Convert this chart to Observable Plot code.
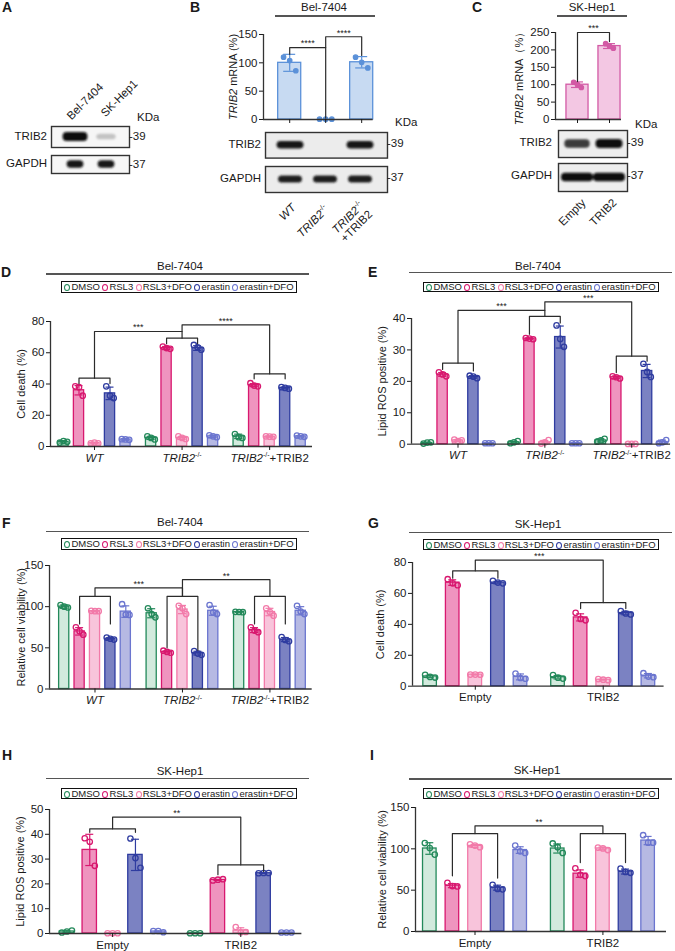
<!DOCTYPE html>
<html><head><meta charset="utf-8">
<script src="https://cdn.jsdelivr.net/npm/d3@7"></script>
<script src="https://cdn.jsdelivr.net/npm/@observablehq/plot@0.6"></script>
<style>
body{margin:0;background:#fff;}
#fig{position:relative;width:675px;height:951px;font-family:"Liberation Sans",Arial,Helvetica,sans-serif;color:#1a1a1a;overflow:hidden;background:#fff;}
.abs{position:absolute;white-space:nowrap;}
.legend{box-sizing:border-box;border:1.5px solid #111;display:flex;align-items:center;justify-content:space-evenly;font-size:9.5px;line-height:1;}
.ring{display:inline-block;width:4px;height:5px;border:1.7px solid;border-radius:50%;margin-right:1px;vertical-align:-1px;}
sup{font-size:7px;vertical-align:5px;line-height:0;}
</style>
</head><body><div id="fig"></div>
<script>
// ---------------- DATA ----------------
const treatments = ["DMSO", "RSL3", "RSL3+DFO", "erastin", "erastin+DFO"];
const trtStroke = ["#23895a", "#d8186f", "#f27aa9", "#2f3ca0", "#6b75cf"];
const trtFill = ["#d2eadd", "#ef94bf", "#f8c4db", "#7b82c2", "#b6b9e3"];
const belGroups = ["WT", "TRIB2-/-", "TRIB2-/-+TRIB2"];
const skGroups = ["Empty", "TRIB2"];

// A: western blot
const blotALanes = ["Bel-7404", "SK-Hep1"];
const blotATRIB2 = [1.0, 0.22];
const blotAGAPDH = [0.95, 0.95];
// B
const bMean = [100, 0, 101];
const bSD = [15, 0, 10];
const bReps = [[110, 104, 86], [0.6, 0.6, 0.6], [110, 101, 91]];
const blotBTRIB2 = [0.95, 0.0, 0.95];
const blotBGAPDH = [0.92, 0.92, 0.92];
// C
const cMean = [100, 211];
const cSD = [8, 7];
const cReps = [[107, 100, 92], [218, 211, 205]];
const blotCTRIB2 = [0.8, 1.0];
const blotCGAPDH = [1.0, 1.0];
const kdaLabels = ["39", "37"];

// D: Bel-7404 cell death (%)
const dMean = [[3, 36, 2.2, 34, 4.5], [5.5, 63, 5.5, 63, 6.5], [6.5, 39.3, 6.3, 37.5, 6.5]];
const dSD = [[0.8, 3, 0.5, 4, 0.5], [1, 1, 1, 1.5, 0.8], [1.4, 1, 0.4, 0.6, 0.5]];
const dReps = [
  [[2.5, 3.5, 3], [38.5, 38, 32.5], [2, 2.5, 2], [38.5, 32.5, 31], [4.7, 4.5, 4.3]],
  [[6.5, 5.5, 4.5], [64, 63, 62.5], [6.5, 5.5, 4.8], [65, 63.5, 62], [7.2, 6.5, 6]],
  [[8, 6, 5.5], [40.5, 39, 38.5], [6.5, 6.3, 6.2], [38, 37.5, 37], [7, 6.5, 6.2]]
];
const dBrackets = [
  {l: [0, 1], r: [0, 3], y: 43.7, yl: 40.3, yr: 40.3},
  {l: [1, 1], r: [1, 3], y: 69.3, yl: 65.8, yr: 65.8},
  {l: [2, 1], r: [2, 3], y: 46.5, yl: 43.3, yr: 43.3},
  {l: [0, 2], r: [1, 2], y: 73.6, yl: 43.7, yr: 69.3, label: "***"},
  {l: [1, 2], r: [2, 2], y: 77.9, yl: 73.6, yr: 46.5, label: "****"}
];
// E: Bel-7404 lipid ROS positive (%)
const eMean = [[0.4, 22.2, 1.2, 21.4, 0.3], [0.6, 33.6, 0.6, 34.1, 0.3], [1.2, 21.3, 0.1, 23.3, 0.7]];
const eSD = [[0.2, 0.6, 0.3, 0.4, 0.1], [0.3, 0.2, 0.6, 3.5, 0.1], [0.5, 0.4, 0.1, 2.1, 0.6]];
const eReps = [
  [[0.2, 0.5, 0.6], [22.9, 22.2, 21.6], [1.5, 1.0, 1.2], [21.8, 21.5, 21.0], [0.3, 0.3, 0.3]],
  [[0.3, 0.6, 1.0], [33.8, 33.6, 33.4], [0.2, 0.6, 1.3], [37.8, 33.5, 31.0], [0.3, 0.3, 0.3]],
  [[0.8, 1.2, 1.7], [21.6, 21.3, 20.9], [0.1, 0.1, 0.1], [25.6, 23.0, 21.4], [0.3, 0.6, 1.3]]
];
const eBrackets = [
  {l: [0, 1], r: [0, 3], y: 25.8, yl: 23.8, yr: 23.3},
  {l: [1, 1], r: [1, 3], y: 40.7, yl: 35, yr: 38.6},
  {l: [2, 1], r: [2, 3], y: 28, yl: 22.8, yr: 26.4},
  {l: [0, 2], r: [1, 2], y: 42.6, yl: 25.8, yr: 40.7, label: "***"},
  {l: [1, 2], r: [2, 2], y: 45.3, yl: 42.6, yr: 28, label: "***"}
];
// F: Bel-7404 relative cell viability (%)
const fMean = [[100, 70, 94.5, 61, 94], [92, 45, 96.5, 43.5, 95], [93.5, 71.5, 93.5, 60, 95]];
const fSD = [[2, 4.5, 0.6, 1.3, 7], [5.5, 1.3, 5, 2.3, 5.5], [0.3, 3, 4.5, 2.5, 5]];
const fReps = [
  [[102, 100, 99], [75, 70, 66], [95, 94.5, 94.5], [62.5, 61, 60], [103, 90.5, 90]],
  [[98, 91, 87], [46.5, 45, 44], [101, 98, 91], [46, 43, 41.5], [102, 93, 91]],
  [[93.7, 93.5, 93.3], [75, 71, 69], [98, 93.5, 89], [63, 59.5, 58], [101, 94, 91]]
];
const fBrackets = [
  {l: [0, 1], r: [0, 3], y: 112.5, yl: 79, yr: 79},
  {l: [1, 1], r: [1, 3], y: 112.5, yl: 50, yr: 47},
  {l: [2, 1], r: [2, 3], y: 112.5, yl: 79, yr: 79},
  {l: [0, 2], r: [1, 2], y: 122.7, yl: 112.5, yr: 112.5, label: "***"},
  {l: [1, 2], r: [2, 2], y: 132.8, yl: 112.5, yr: 112.5, label: "**"}
];
// G: SK-Hep1 cell death (%)
const gMean = [[6.3, 67, 7.5, 67, 6], [5.8, 44.5, 4.2, 47.3, 6.8]];
const gSD = [[0.8, 1.8, 0.3, 0.8, 1.9], [1.1, 2.3, 0.3, 1.1, 1.4]];
const gReps = [
  [[7.4, 6, 5.6], [69.2, 66.5, 65.3], [7.5, 7.5, 7.4], [68.2, 67, 66.5], [8.2, 5.3, 4.8]],
  [[7.2, 5.5, 4.9], [47.5, 43.5, 42.6], [4.6, 4.2, 3.9], [48.6, 47, 46.4], [8.4, 6.2, 5.8]]
];
const gBrackets = [
  {l: [0, 1], r: [0, 3], y: 74.6, yl: 69.8, yr: 69.8},
  {l: [1, 1], r: [1, 3], y: 54.1, yl: 50.2, yr: 50.2},
  {l: [0, 2], r: [1, 2], y: 81.5, yl: 74.6, yr: 54.1, label: "***"}
];
// H: SK-Hep1 lipid ROS positive (%)
const hMean = [[0.8, 33.7, 0.1, 31.7, 0.8], [0.1, 21.6, 1.2, 24.3, 0.4]];
const hSD = [[0.3, 6.3, 0.1, 6.3, 0.2], [0.1, 0.2, 1.1, 0.1, 0.05]];
const hReps = [
  [[0.4, 0.8, 1.2], [38.4, 37, 27.3], [0.1, 0.1, 0.1], [38.3, 30.4, 26.5], [1.0, 1.0, 0.5]],
  [[0.1, 0.1, 0.1], [21.4, 21.7, 21.9], [2.6, 0.5, 0.6], [24.3, 24.4, 24.4], [0.4, 0.4, 0.4]]
];
const hBrackets = [
  {l: [0, 1], r: [0, 3], y: 42.2, yl: 40.8, yr: 40.8},
  {l: [1, 1], r: [1, 3], y: 27.7, yl: 23.7, yr: 25},
  {l: [0, 2], r: [1, 2], y: 46.9, yl: 42.2, yr: 27.7, label: "**"}
];
// I: SK-Hep1 relative cell viability (%)
const iMean = [[100.4, 55.5, 103.6, 53, 98.5], [100.4, 70, 100.5, 72.5, 110]];
const iSD = [[7, 2.5, 1.8, 3, 4], [5.5, 4.5, 1.6, 3, 5]];
const iReps = [
  [[107, 101, 93], [59, 55, 54.5], [105.5, 104, 102], [56.5, 51.5, 51], [104, 97, 95]],
  [[106.5, 102, 95], [76.5, 68.5, 67], [101.5, 100.5, 98.5], [76, 72, 71], [116.5, 107.5, 107.5]]
];
const iBrackets = [
  {l: [0, 1], r: [0, 3], y: 118.5, yl: 67.4, yr: 64.6},
  {l: [1, 1], r: [1, 3], y: 118.5, yl: 83.4, yr: 83.4},
  {l: [0, 2], r: [1, 2], y: 127.8, yl: 118.5, yr: 118.5, label: "**"}
];
const bBrackets = [
  {l: [0, 0], r: [1, 0], y: 127, yl: 115, yr: 2.5, label: "****"},
  {l: [1, 0], r: [2, 0], y: 146, yl: 127, yr: 113, label: "****"}
];
const cBrackets = [{l: [0, 0], r: [1, 0], y: 250, yl: 109, yr: 224, label: "***"}];

// ---------------- HELPERS ----------------
const fig = document.getElementById("fig");
const FONT = '"Liberation Sans", Arial, Helvetica, sans-serif';

function put(html, x, y, o = {}) {
  const d = document.createElement("div");
  d.className = "abs";
  d.innerHTML = html;
  d.style.left = x + "px";
  d.style.top = y + "px";
  d.style.fontSize = (o.size || 11.5) + "px";
  d.style.lineHeight = o.lh || "1.15";
  if (o.bold) d.style.fontWeight = "bold";
  if (o.align) d.style.textAlign = o.align;
  const tx = o.anchor === "end" ? "-100%" : o.anchor === "middle" ? "-50%" : "0";
  let tf = `translate(${tx},-50%)`;
  if (o.rot) {
    tf += ` rotate(${o.rot}deg)`;
    d.style.transformOrigin = (o.anchor === "end" ? "100%" : o.anchor === "middle" ? "50%" : "0%") + " 50%";
  }
  d.style.transform = tf;
  fig.appendChild(d);
  return d;
}
function hline(x1, x2, y) {
  const d = document.createElement("div");
  d.className = "abs";
  Object.assign(d.style, {left: x1 + "px", top: (y - 0.7) + "px", width: (x2 - x1) + "px", height: "1.4px", background: "#555"});
  fig.appendChild(d);
}
function header(text, cx, cy, x1, x2, ly) {
  put(text, cx, cy, {anchor: "middle", size: 11.5});
  hline(x1, x2, ly);
}
function legend(x1, x2, y1, y2) {
  const d = document.createElement("div");
  d.className = "abs legend";
  Object.assign(d.style, {left: x1 + "px", top: y1 + "px", width: (x2 - x1) + "px", height: (y2 - y1) + "px"});
  d.innerHTML = treatments.map((t, i) => `<span><span class="ring" style="border-color:${trtStroke[i]}"></span>${t}</span>`).join("");
  fig.appendChild(d);
}
function richSVG(s) {
  if (s === "WT") return '<tspan font-style="italic">WT</tspan>';
  let m = s.match(/^TRIB2-\/-(.*)$/);
  if (m) return '<tspan font-style="italic">TRIB2</tspan><tspan font-size="7" dy="-4.5">-/-</tspan>' + (m[1] ? `<tspan dy="4.5">${m[1]}</tspan>` : "");
  m = s.match(/^TRIB2 (mRNA.*)$/);
  if (m) return `<tspan font-style="italic">TRIB2</tspan><tspan> ${m[1]}</tspan>`;
  return null;
}
let blurN = 0;
function blot(vals, box, c0, unit, bandW, bandH, bg) {
  const [bx0, bx1, by0, by1] = box;
  const xd = [(bx0 - c0) / unit, (bx1 - c0) / unit];
  const bands = vals.map((v, i) => ({i, v, w: bandW * (0.72 + 0.28 * v), h: bandH * (0.55 + 0.45 * v)})).filter(d => d.v > 0);
  const svg = Plot.plot({
    width: bx1 - bx0 + 2, height: by1 - by0 + 2, margin: 1,
    style: {background: "transparent", overflow: "visible"},
    x: {domain: xd, axis: null}, y: {domain: [0, 1], axis: null},
    color: {type: "identity"},
    marks: [
      Plot.frame({fill: bg, stroke: "#333", strokeWidth: 1.4}),
      Plot.rect(bands, {x1: d => d.i - d.w / 2, x2: d => d.i + d.w / 2, y1: d => 0.5 - d.h / 2, y2: d => 0.5 + d.h / 2,
        fill: d => d3.interpolateRgb(bg, "#0d0d0d")(d.v), rx: 4})
    ]
  });
  const id = "blur" + (blurN++);
  svg.insertAdjacentHTML("afterbegin", `<defs><filter id="${id}" x="-30%" y="-80%" width="160%" height="260%"><feGaussianBlur stdDeviation="1.2"/></filter></defs>`);
  const g = svg.querySelector('g[aria-label="rect"]');
  if (g) g.setAttribute("filter", `url(#${id})`);
  Object.assign(svg.style, {position: "absolute", left: (bx0 - 1) + "px", top: (by0 - 1) + "px"});
  fig.appendChild(svg);
}
function barChart(c) {
  const mL = 50, mR = 10, mT = 30, mB = 32;
  const [x0, x1, yT, y0] = c.frame;
  const pos = (g, t) => g * c.G + t;
  const xd = [(x0 - c.first) / c.unit, (x1 - c.first) / c.unit];
  const rows = [], dots = [];
  c.mean.forEach((row, g) => row.forEach((m, t) => {
    const p = pos(g, t);
    rows.push({p, m, sd: c.sd[g][t], fill: c.fills[t], stroke: c.strokes[t]});
    c.reps[g][t].forEach((v, k) => dots.push({x: p + c.jit[k], y: v, stroke: c.strokes[t]}));
  }));
  const hw = c.bw / 2, cap = c.capPx / c.unit;
  const centers = c.groups.map((_, g) => pos(g, c.centerT));
  const names = new Map(centers.map((x, g) => [x, c.showNames ? c.groups[g] : ""]));
  const brPts = [], brLab = [];
  c.brackets.forEach((b, i) => {
    const xl = pos(...b.l), xr = pos(...b.r);
    brPts.push({i, x: xl, y: b.yl}, {i, x: xl, y: b.y}, {i, x: xr, y: b.y}, {i, x: xr, y: b.yr});
    if (b.label) brLab.push({x: (xl + xr) / 2, y: b.y, t: b.label});
  });
  const svg = Plot.plot({
    width: x1 - x0 + mL + mR, height: y0 - yT + mT + mB,
    marginLeft: mL, marginRight: mR, marginTop: mT, marginBottom: mB,
    style: {background: "transparent", overflow: "visible", fontFamily: FONT, fontSize: "11px", color: "#1a1a1a"},
    x: {domain: xd, axis: null},
    y: {domain: [0, c.ymax], axis: null},
    color: {type: "identity"},
    marks: [
      Plot.rectY(rows, {x1: d => d.p - hw, x2: d => d.p + hw, y1: 0, y2: "m", fill: "fill", stroke: "stroke", strokeWidth: 1.3}),
      Plot.ruleX(rows, {x: "p", y1: d => d.m - d.sd, y2: d => d.m + d.sd, stroke: "stroke", strokeWidth: 1.2}),
      Plot.ruleY(rows, {y: d => d.m + d.sd, x1: d => d.p - cap, x2: d => d.p + cap, stroke: "stroke", strokeWidth: 1.2}),
      Plot.ruleY(rows, {y: d => d.m - d.sd, x1: d => d.p - cap, x2: d => d.p + cap, stroke: "stroke", strokeWidth: 1.2}),
      Plot.dot(dots, {x: "x", y: "y", r: c.r, stroke: "stroke", fill: c.dotFill ? "stroke" : "none", strokeWidth: 1.3}),
      Plot.ruleY([0], {x1: xd[0], x2: xd[1], stroke: "#333", strokeWidth: 1.3}),
      Plot.ruleX([xd[0]], {y1: 0, y2: c.ymax, stroke: "#333", strokeWidth: 1.3}),
      Plot.axisY({ticks: c.yticks, tickSize: 4, tickPadding: 2, label: c.ylabel, labelAnchor: "center",
        labelOffset: c.labelOffset, labelArrow: "none", fontSize: 11.5}),
      Plot.axisX({ticks: centers, tickSize: 4, tickPadding: 3, tickFormat: d => names.get(d) ?? "", label: null, fontSize: 11.5}),
      Plot.line(brPts, {x: "x", y: "y", z: "i", stroke: "#2b2b2b", strokeWidth: 1.2}),
      Plot.text(brLab, {x: "x", y: "y", text: "t", dy: -4, fontSize: 9})
    ]
  });
  svg.querySelectorAll("text").forEach(t => { const r = richSVG(t.textContent); if (r) t.innerHTML = r; });
  svg.querySelectorAll('g[aria-label="y-axis label"] text').forEach(t => { t.style.fontSize = "11px"; });
  Object.assign(svg.style, {position: "absolute", left: (x0 - mL) + "px", top: (yT - mT) + "px"});
  fig.appendChild(svg);
}

// ---------------- PANEL LETTERS ----------------
[["A", 2, 7], ["B", 190, 7], ["C", 472, 7], ["D", 1, 272], ["E", 368, 272],
 ["F", 2, 523], ["G", 368, 523], ["H", 2, 755], ["I", 370, 755]].forEach(([t, x, y]) => put(t, x, y, {bold: true, size: 14}));

// ---------------- A ----------------
blot(blotATRIB2, [51, 129, 126, 147], 75, 31, 0.8, 0.42, "#f6f6f6");
blot(blotAGAPDH, [51, 129, 155, 173], 75, 31, 0.55, 0.42, "#f6f6f6");
put("TRIB2", 47, 137, {anchor: "end"});
put("GAPDH", 47, 164, {anchor: "end"});
put("KDa", 137, 118);
put("-" + kdaLabels[0], 129, 137);
put("-" + kdaLabels[1], 129, 165);
put(blotALanes[0], 69, 118, {rot: -45});
put(blotALanes[1], 103, 115, {rot: -45});

// ---------------- B ----------------
header("Bel-7404", 324, 7.5, 275, 375, 16);
barChart({frame: [263.3, 373, 34, 119], first: 289.5, unit: 36, G: 1, groups: belGroups, showNames: false, centerT: 0,
  mean: bMean.map(v => [v]), sd: bSD.map(v => [v]), reps: bReps.map(v => [v]),
  fills: ["#c7daf2"], strokes: ["#5b91d9"], bw: 0.64, capPx: 6, jit: [-0.17, 0, 0.17], r: 2.2, dotFill: true,
  ymax: 150, yticks: [0, 50, 100, 150], ylabel: "TRIB2 mRNA (%)", labelOffset: 34, brackets: bBrackets});
blot(blotBTRIB2, [265, 387, 131.7, 157.3], 290, 35, 0.78, 0.3, "#ececec");
blot(blotBGAPDH, [265, 387, 165.7, 191.7], 290, 35, 0.7, 0.28, "#ececec");
put("TRIB2", 261, 144.5, {anchor: "end"});
put("GAPDH", 261, 178.7, {anchor: "end"});
put("KDa", 395, 123);
put("-" + kdaLabels[0], 387, 144);
put("-" + kdaLabels[1], 387, 178);
put("<i>WT</i>", 294, 206, {anchor: "end", rot: -45});
put("<i>TRIB2</i><sup>-/-</sup>", 327, 208, {anchor: "end", rot: -45});
put("<i>TRIB2</i><sup>-/-</sup><br>+TRIB2", 366, 208, {anchor: "end", rot: -45, align: "right", lh: "1.05"});

// ---------------- C ----------------
header("SK-Hep1", 592, 7.5, 557, 627, 16);
barChart({frame: [555, 621, 32, 119], first: 577, unit: 32, G: 1, groups: skGroups, showNames: false, centerT: 0,
  mean: cMean.map(v => [v]), sd: cSD.map(v => [v]), reps: cReps.map(v => [v]),
  fills: ["#f3c7e3"], strokes: ["#d35aa5"], bw: 0.69, capPx: 6, jit: [-0.12, 0, 0.12], r: 2.2, dotFill: true,
  ymax: 250, yticks: [0, 50, 100, 150, 200, 250], ylabel: "TRIB2 mRNA（%）", labelOffset: 40, brackets: cBrackets});
blot(blotCTRIB2, [558, 627, 130, 157], 577, 32, 0.84, 0.34, "#eeeeee");
blot(blotCGAPDH, [558, 627, 163, 191], 577, 32, 1.0, 0.3, "#eeeeee");
put("TRIB2", 552, 143, {anchor: "end"});
put("GAPDH", 552, 176, {anchor: "end"});
put("KDa", 635, 125);
put("-" + kdaLabels[0], 627, 143);
put("-" + kdaLabels[1], 627, 176);
put(skGroups[0], 584, 201, {anchor: "end", rot: -45});
put(skGroups[1], 615, 201, {anchor: "end", rot: -45});

// ---------------- D–I ----------------
const common = {fills: trtFill, strokes: trtStroke, centerT: 2, showNames: true, capPx: 4, r: 2.7, dotFill: false};
header("Bel-7404", 180, 267, 46, 309, 274); legend(61, 297, 281, 293);
barChart({...common, frame: [50, 312, 321, 446], first: 63, unit: 15.5, G: 5.65, groups: belGroups,
  mean: dMean, sd: dSD, reps: dReps, bw: 0.66, jit: [-0.24, 0, 0.24],
  ymax: 80, yticks: [0, 20, 40, 60, 80], ylabel: "Cell death (%)", labelOffset: 33, brackets: dBrackets});

header("Bel-7404", 538, 266.7, 409, 672, 272.7); legend(423, 659, 281.7, 292.3);
barChart({...common, frame: [411, 670, 318, 443.7], first: 426.7, unit: 15.4, G: 5.64, groups: belGroups,
  mean: eMean, sd: eSD, reps: eReps, bw: 0.67, jit: [-0.24, 0, 0.24],
  ymax: 40, yticks: [0, 10, 20, 30, 40], ylabel: "Lipid ROS positive (%)", labelOffset: 33, brackets: eBrackets});

header("Bel-7404", 180, 523.3, 46, 309, 531.7); legend(61, 297, 538.3, 550);
barChart({...common, frame: [49.3, 312, 564.8, 688.3], first: 64, unit: 15.4, G: 5.68, groups: belGroups,
  mean: fMean, sd: fSD, reps: fReps, bw: 0.66, jit: [-0.24, 0, 0.24],
  ymax: 150, yticks: [0, 50, 100, 150], ylabel: "Relative cell viability (%)", labelOffset: 32, brackets: fBrackets});

header("SK-Hep1", 538, 525, 409, 672, 532.3); legend(423, 659, 539.3, 550);
barChart({...common, frame: [411.7, 663.3, 562.3, 686], first: 429.3, unit: 22.6, G: 5.66, groups: skGroups,
  mean: gMean, sd: gSD, reps: gReps, bw: 0.6, jit: [-0.22, 0, 0.22],
  ymax: 80, yticks: [0, 20, 40, 60, 80], ylabel: "Cell death (%)", labelOffset: 36, brackets: gBrackets});

header("SK-Hep1", 180, 771.7, 46, 309, 778.3); legend(61, 297, 787.7, 799);
barChart({...common, frame: [49.3, 301.7, 809, 933], first: 66.7, unit: 22.85, G: 5.61, groups: skGroups,
  mean: hMean, sd: hSD, reps: hReps, bw: 0.63, jit: [-0.22, 0, 0.22],
  ymax: 50, yticks: [0, 10, 20, 30, 40, 50], ylabel: "Lipid ROS positive (%)", labelOffset: 33, brackets: hBrackets});

header("SK-Hep1", 537, 771, 409, 672, 779); legend(423, 659, 787.7, 799.3);
barChart({...common, frame: [415, 666, 806.7, 930.7], first: 429.3, unit: 22.6, G: 5.66, groups: skGroups,
  mean: iMean, sd: iSD, reps: iReps, bw: 0.6, jit: [-0.22, 0, 0.22],
  ymax: 150, yticks: [0, 50, 100, 150], ylabel: "Relative cell viability (%)", labelOffset: 37, brackets: iBrackets});
</script>
</body></html>
